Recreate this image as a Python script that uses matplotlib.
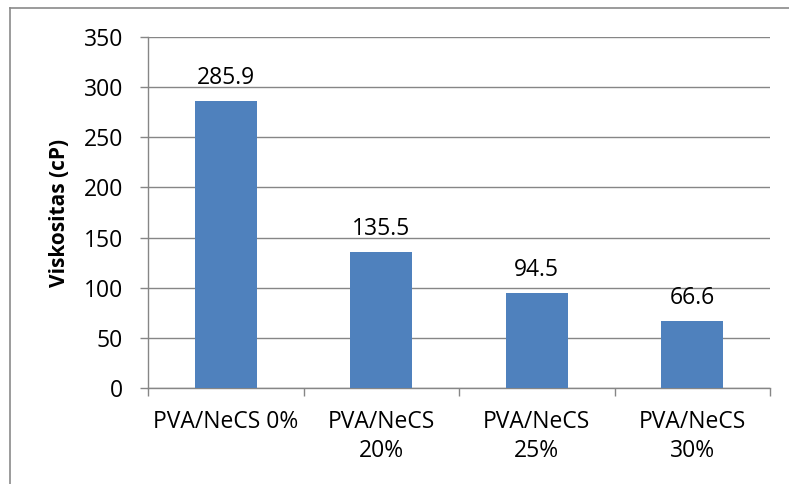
import matplotlib
matplotlib.use("Agg")
import matplotlib.pyplot as plt
from matplotlib.lines import Line2D

categories = ["PVA/NeCS 0%", "PVA/NeCS\n20%", "PVA/NeCS\n25%", "PVA/NeCS\n30%"]
viscosity = [285.9, 135.5, 94.5, 66.6]
value_labels = ["285.9", "135.5", "94.5", "66.6"]
y_ticks = [0, 50, 100, 150, 200, 250, 300, 350]

plt.rcParams["font.family"] = ["Open Sans", "DejaVu Sans"]

W, H = 789, 484
FS = 16.5
fig = plt.figure(figsize=(W / 100, H / 100), dpi=100)
ax = fig.add_axes([148 / W, 1 - 388 / H, (770 - 148) / W, (388 - 37) / H])

grid_c = "#868686"
bar_c = "#4F81BD"

x = list(range(len(categories)))
ax.bar(x, viscosity, width=0.40, color=bar_c, zorder=3)
for xi, v, t in zip(x, viscosity, value_labels):
    ax.annotate(t, (xi, v), xytext=(0, 8), textcoords="offset points",
                ha="center", va="bottom", fontsize=FS, color="black")

ax.set_xlim(-0.5, len(categories) - 0.5)
ax.set_ylim(0, 350)
ax.set_yticks(y_ticks)
ax.yaxis.grid(True, color=grid_c, linewidth=1.0, zorder=0)
ax.tick_params(axis="y", direction="out", length=6, color=grid_c, width=1.0,
               labelsize=FS, pad=12)

ax.set_xticks([i - 0.5 for i in range(len(categories) + 1)])
ax.set_xticklabels([])
ax.set_xticks(x, minor=True)
ax.set_xticklabels(categories, minor=True, fontsize=FS, linespacing=1.25)
ax.tick_params(axis="x", which="major", direction="out", length=6, color=grid_c, width=1.0)
ax.tick_params(axis="x", which="minor", length=0, pad=16)

for s in ["top", "right"]:
    ax.spines[s].set_visible(False)
for s in ["left", "bottom"]:
    ax.spines[s].set_color(grid_c)
    ax.spines[s].set_linewidth(1.0)

ax.set_ylabel("Viskositas (cP)", fontsize=15, fontweight="bold", labelpad=10)

# chart frame
fig.add_artist(Line2D([10 / W, 10 / W], [0, 1 - 8 / H], transform=fig.transFigure,
                      color="#8a8a8a", linewidth=1.2))
fig.add_artist(Line2D([10 / W, 1], [1 - 8 / H, 1 - 8 / H], transform=fig.transFigure,
                      color="#8a8a8a", linewidth=1.2))

fig.savefig("out.png", dpi=100, facecolor="white")
